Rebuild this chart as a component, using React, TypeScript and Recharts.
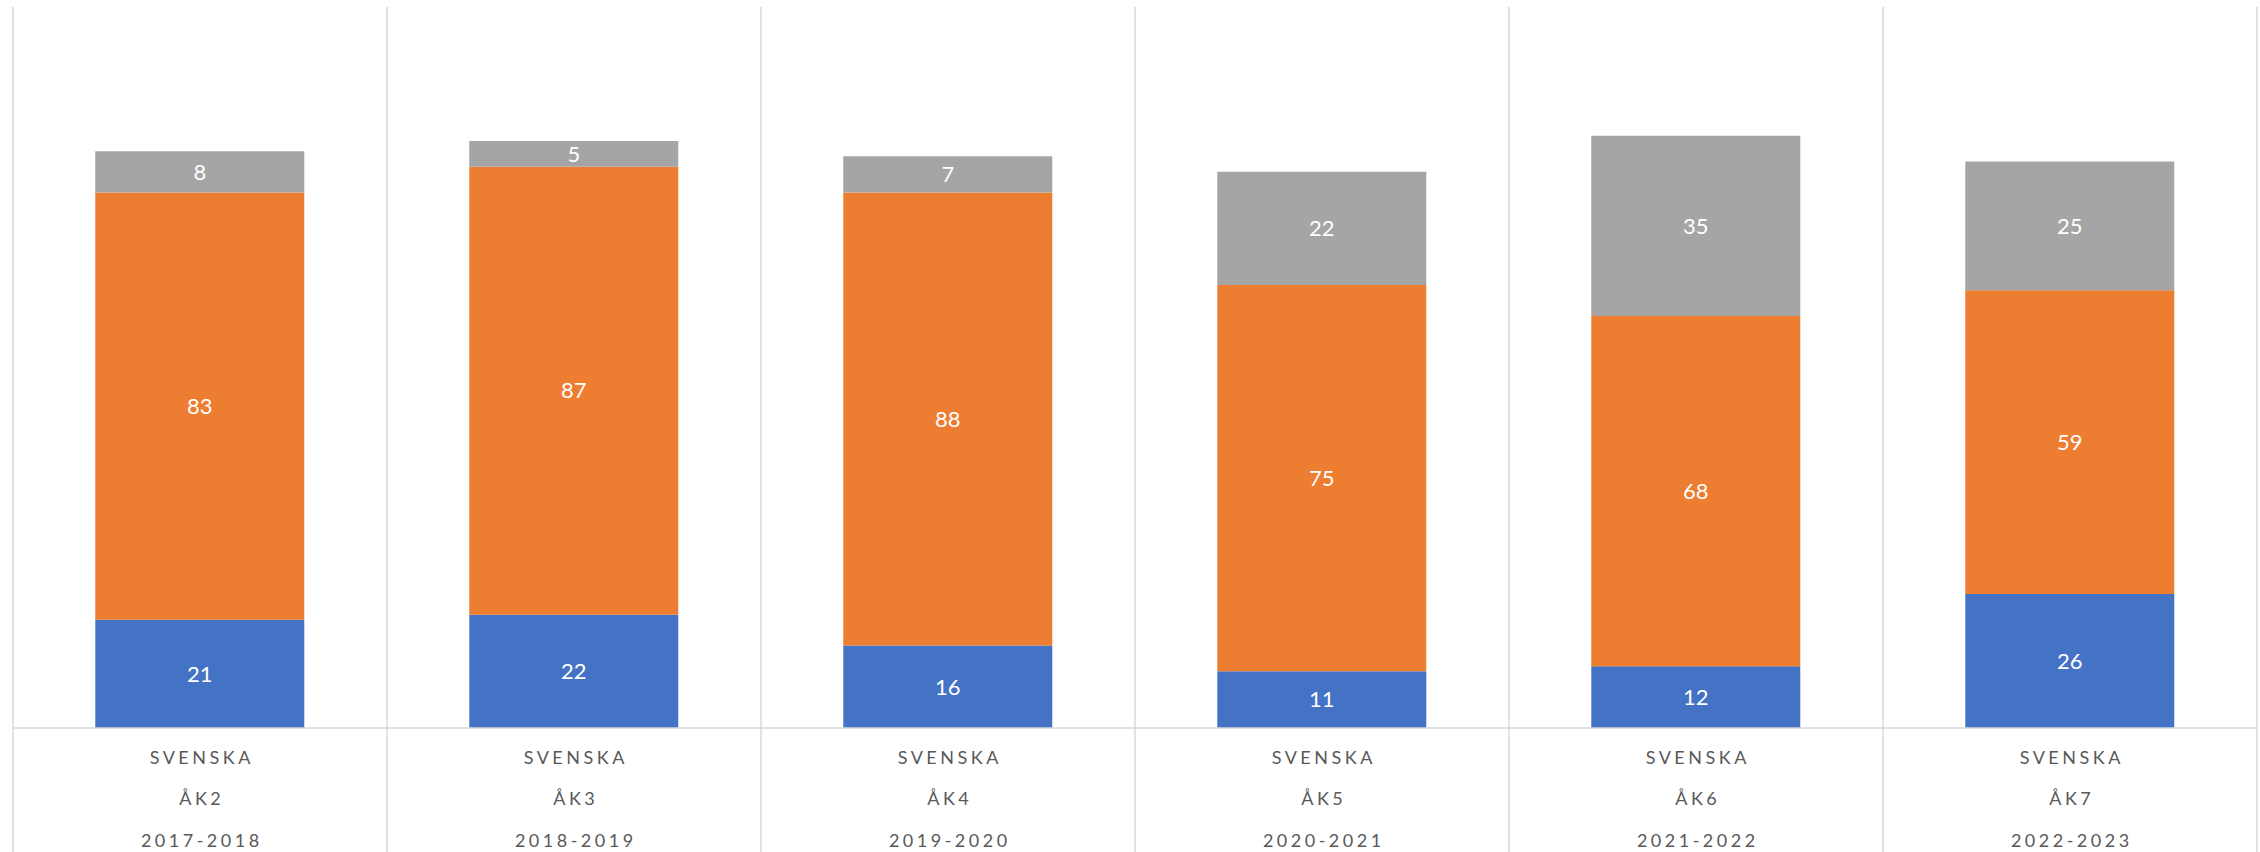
import React from 'react';
import { BarChart, Bar, XAxis, YAxis, CartesianGrid, LabelList } from 'recharts';

const subjects = ['SVENSKA', 'SVENSKA', 'SVENSKA', 'SVENSKA', 'SVENSKA', 'SVENSKA'];
const grades = ['ÅK2', 'ÅK3', 'ÅK4', 'ÅK5', 'ÅK6', 'ÅK7'];
const years = ['2017-2018', '2018-2019', '2019-2020', '2020-2021', '2021-2022', '2022-2023'];

const blueValues = [21, 22, 16, 11, 12, 26];
const orangeValues = [83, 87, 88, 75, 68, 59];
const grayValues = [8, 5, 7, 22, 35, 25];

const data = years.map((year, i) => ({
    key: `${grades[i]}-${year}`,
    subject: subjects[i],
    grade: grades[i],
    year,
    blue: blueValues[i],
    orange: orangeValues[i],
    gray: grayValues[i],
}));

const WIDTH = 2260;
const HEIGHT = 852;
const MARGIN = { top: 7, right: 3, left: 13, bottom: 0 };
const AXIS_HEIGHT = 124;
const GRID = '#d9d9d9';
const FONT = 'Lato, "Open Sans", sans-serif';

const BAND = (WIDTH - MARGIN.left - MARGIN.right) / data.length;

const CategoryTick = (props: any) => {
    const { x, y, index } = props;
    const row = data[index];
    if (!row) return null;
    const textStyle = {
        fontFamily: FONT,
        fontSize: 18,
        letterSpacing: 3.5,
        fill: '#595959',
    };
    return (
        <g>
            <line x1={x - BAND / 2} x2={x - BAND / 2} y1={y} y2={y + AXIS_HEIGHT} stroke={GRID} strokeWidth={1.5} />
            {index === data.length - 1 && (
                <line x1={x + BAND / 2} x2={x + BAND / 2} y1={y} y2={y + AXIS_HEIGHT} stroke={GRID} strokeWidth={1.5} />
            )}
            <text x={x + 1.75} y={y + 36} textAnchor="middle" style={textStyle}>{row.subject}</text>
            <text x={x + 1.75} y={y + 77} textAnchor="middle" style={textStyle}>{row.grade}</text>
            <text x={x + 1.75} y={y + 119} textAnchor="middle" style={textStyle}>{row.year}</text>
        </g>
    );
};

const labelStyle = { fill: '#ffffff', fontSize: 22, fontFamily: FONT };

const App: React.FC = () => {
    return (
        <div style={{ position: 'absolute', left: 0, top: 0, background: '#fff' }}>
            <BarChart width={WIDTH} height={HEIGHT} data={data} margin={MARGIN} barCategoryGap="22%">
                <CartesianGrid
                    horizontal={false}
                    stroke={GRID}
                    strokeWidth={1.5}
                    verticalCoordinatesGenerator={({ offset }: any) =>
                        Array.from({ length: data.length + 1 }, (_, i) => offset.left + (i * offset.width) / data.length)
                    }
                />
                <XAxis
                    dataKey="key"
                    height={AXIS_HEIGHT}
                    tickLine={false}
                    tickSize={0}
                    tickMargin={0}
                    axisLine={{ stroke: GRID, strokeWidth: 1.5 }}
                    interval={0}
                    tick={<CategoryTick />}
                />
                <YAxis hide domain={[0, 140]} />
                <Bar dataKey="blue" stackId="a" fill="#4472C4" isAnimationActive={false}>
                    <LabelList dataKey="blue" position="center" style={labelStyle} />
                </Bar>
                <Bar dataKey="orange" stackId="a" fill="#ED7D31" isAnimationActive={false}>
                    <LabelList dataKey="orange" position="center" style={labelStyle} />
                </Bar>
                <Bar dataKey="gray" stackId="a" fill="#A5A5A5" isAnimationActive={false}>
                    <LabelList dataKey="gray" position="center" style={labelStyle} />
                </Bar>
            </BarChart>
        </div>
    );
};

export default App;
